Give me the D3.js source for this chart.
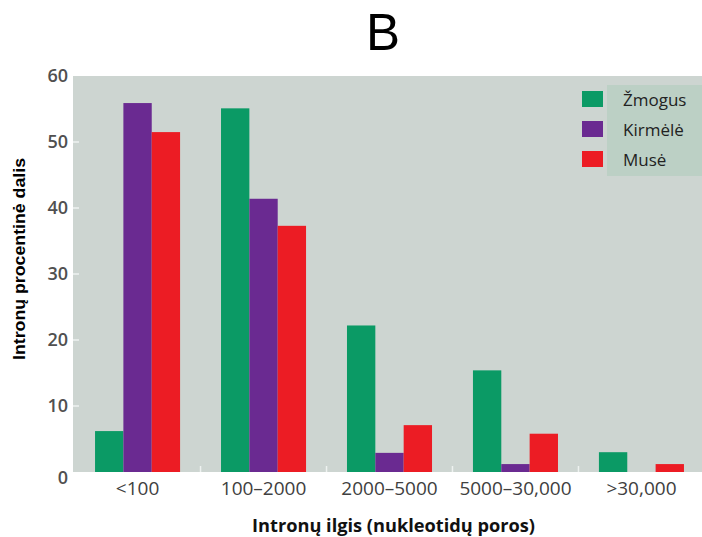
<!DOCTYPE html>
<html>
<head>
<meta charset="utf-8">
<script src="https://cdn.jsdelivr.net/npm/d3@7"></script>
<style>
  body { margin: 0; background: #fff; }
  svg { display: block; }
</style>
</head>
<body>
<div id="chart"></div>
<script>
// data
const categories = ["<100", "100–2000", "2000–5000", "5000–30,000", ">30,000"]
const seriesNames = ["Žmogus", "Kirmėlė", "Musė"]
const zmogus  = [6.2, 55.1, 22.2, 15.4, 3.0]
const kirmele = [55.9, 41.4, 2.9, 1.2, 0]
const muse    = [51.5, 37.3, 7.1, 5.8, 1.2]
const yTicks  = [0, 10, 20, 30, 40, 50, 60]

const colors = ["#0b9a65", "#6a2a91", "#ec1c24"]
const series = [zmogus, kirmele, muse]

const W = 702, H = 537
const plot = {left: 73, right: 706, top: 76, bottom: 472}

const svg = d3.select("#chart").append("svg")
  .attr("width", W).attr("height", H)

// grey panel
svg.append("rect")
  .attr("x", plot.left).attr("y", plot.top)
  .attr("width", W - plot.left).attr("height", plot.bottom - plot.top)
  .attr("fill", "#cdd5d1")

const x = d3.scaleBand()
  .domain(categories)
  .range([plot.left, plot.right])
  .paddingInner(0.325)
  .paddingOuter(0.175)

const xSub = d3.scaleBand()
  .domain(seriesNames)
  .range([0, x.bandwidth()])

const y = d3.scaleLinear()
  .domain([0, 60])
  .range([plot.bottom, plot.top])

// bars
const rows = categories.map((c, i) => ({cat: c, vals: seriesNames.map((s, j) => ({name: s, v: series[j][i], c: colors[j]}))}))

const g = svg.selectAll(".grp").data(rows).join("g")
  .attr("class", "grp")
  .attr("transform", d => `translate(${x(d.cat)},0)`)

g.selectAll("rect").data(d => d.vals.filter(e => e.v > 0)).join("rect")
  .attr("x", d => xSub(d.name))
  .attr("width", xSub.bandwidth())
  .attr("y", d => y(d.v))
  .attr("height", d => y(0) - y(d.v))
  .attr("fill", d => d.c)

// y axis
const yAxis = svg.append("g")
  .attr("transform", `translate(${plot.left},0)`)
  .call(d3.axisLeft(y).tickValues(yTicks).tickSize(0).tickPadding(5))
yAxis.select(".domain").remove()
yAxis.selectAll("text")
  .attr("font-family", "Open Sans, sans-serif")
  .attr("font-size", 18)
  .attr("font-weight", 600)
  .attr("fill", "#505050")
// the zero label sits a bit lower in the original
yAxis.selectAll(".tick").filter(d => d === 0).select("text").attr("dy", "0.62em")
// little white ticks inside the panel
svg.selectAll(".ytk").data(yTicks.slice(1, 6)).join("line")
  .attr("x1", plot.left).attr("x2", plot.left + 6)
  .attr("y1", d => y(d)).attr("y2", d => y(d))
  .attr("stroke", "#eef2f0").attr("stroke-width", 1.5)

// x axis
const xAxis = svg.append("g")
  .attr("transform", `translate(0,${plot.bottom})`)
  .call(d3.axisBottom(x).tickSize(0).tickPadding(10))
xAxis.select(".domain").remove()
xAxis.selectAll("text")
  .attr("font-family", "Open Sans, sans-serif")
  .attr("font-size", 19)
  .attr("fill", "#404040")
// white separators between groups
svg.selectAll(".xtk").data(categories.slice(1)).join("line")
  .attr("x1", d => x(d) - x.step() * x.paddingInner() / 2)
  .attr("x2", d => x(d) - x.step() * x.paddingInner() / 2)
  .attr("y1", plot.bottom).attr("y2", plot.bottom - 6)
  .attr("stroke", "#eef2f0").attr("stroke-width", 1.5)

// titles
svg.append("text")
  .attr("x", 383).attr("y", 50)
  .attr("text-anchor", "middle")
  .attr("font-family", "Liberation Sans, Arial, sans-serif")
  .attr("font-size", 51)
  .text("B")

svg.append("text")
  .attr("x", 252).attr("y", 532)
  .attr("font-family", "Open Sans, sans-serif")
  .attr("font-weight", 700)
  .attr("font-size", 17)
  .attr("textLength", 283)
  .attr("lengthAdjust", "spacingAndGlyphs")
  .attr("fill", "#111")
  .text("Intronų ilgis (nukleotidų poros)")

svg.append("text")
  .attr("transform", "translate(25,360) rotate(-90)")
  .attr("font-family", "Liberation Sans, Arial, sans-serif")
  .attr("font-weight", 700)
  .attr("font-size", 17)
  .attr("textLength", 202)
  .attr("lengthAdjust", "spacingAndGlyphs")
  .attr("fill", "#000")
  .text("Intronų procentinė dalis")

// legend
svg.append("rect")
  .attr("x", 607).attr("y", 85)
  .attr("width", W - 607).attr("height", 91)
  .attr("fill", "#bcd0c5")

const leg = svg.selectAll(".leg").data(seriesNames).join("g")
  .attr("class", "leg")
  .attr("transform", (d, i) => `translate(582,${91 + i * 30})`)
leg.append("rect")
  .attr("width", 21).attr("height", 16)
  .attr("fill", (d, i) => colors[i])
leg.append("text")
  .attr("x", 41).attr("y", 15)
  .attr("font-family", "Open Sans, sans-serif")
  .attr("font-size", 17)
  .attr("fill", "#222")
  .text(d => d)
</script>
</body>
</html>
